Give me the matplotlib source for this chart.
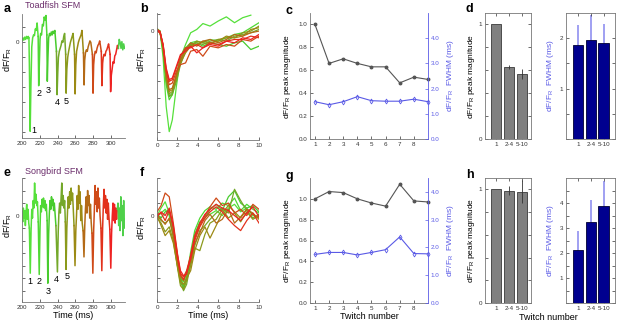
import numpy as np
import matplotlib
matplotlib.use("Agg")
import matplotlib.pyplot as plt
from matplotlib.ticker import FormatStrFormatter

plt.rcParams['font.family'] = ['Liberation Sans', 'DejaVu Sans']
plt.rcParams['mathtext.fontset'] = 'custom'
plt.rcParams['mathtext.rm'] = 'Liberation Sans'
plt.rcParams['mathtext.it'] = 'Liberation Sans:italic'

# ---------------- data ----------------
tw_colors = ['#55e03a', '#4fd834', '#48cc2e', '#74a82a', '#8b9a1c',
             '#9c8a14', '#b46a16', '#cf4a18', '#e2321c', '#ee2222']
tail_color = '#4fd04a'

# panel a: toadfish raw trace (time ms, dF/F units)
a_time = [200, 201, 202, 203, 204, 205, 206, 207, 207.8,
          208.3, 209.2, 210.0, 211.0, 212, 213, 214, 215, 216, 217, 218.2,
          218.8, 219.5, 220.3, 221, 222, 223, 224, 225, 226, 227, 228,
          228.5, 229.2, 230, 231, 232, 233, 234, 235, 236, 237, 238.8,
          239.5, 240.3, 241, 242, 243, 244, 245, 246, 247, 248, 249.2,
          249.7, 250.5, 251.5, 252.5, 253.5, 254.5, 255.5, 256.5, 257.5, 259.2,
          259.8, 260.6, 261.5, 262.5, 263.5, 264.5, 265.5, 266.5, 267.5, 269.2,
          269.9, 270.6, 271.5, 272.5, 273.5, 274.5, 275.5, 276.5, 277.5, 279.3,
          280, 280.7, 281.5, 282.5, 283.5, 284.5, 285.5, 286.5, 287.5, 289.3,
          290, 290.8, 291.5, 292.5, 293.5, 294.5, 295.5, 296.5, 297.5, 299.2,
          299.8, 300.6, 301.5, 302.5, 303.5, 304.5, 305.5, 306.5, 307.5, 308.5,
          309.5, 310.5, 311.5, 312.5, 313.5, 314.5, 315.5]
a_val = [0.1, 0.3, 0.15, 0.35, 0.2, 0.4, 0.25, 0.4, 0.3,
         -1.5, -5.95, -3.0, -0.3, 0.3, 0.5, 0.45, 0.9, 0.8, 1.3, 0.4,
         -2.9, -1.5, 0.2, 0.6, 0.5, 1.2, 1.1, 1.7, 1.5, 1.8, 0.5,
         -2.6, -1.0, 0.3, 0.6, 0.45, 0.7, 0.5, 0.75, 0.6, 0.8, -0.6,
         -3.5, -2.0, -1.0, -0.6, -0.4, -0.2, 0.1, 0.0, 0.4, 0.6, -0.8,
         -3.4, -1.8, -1.0, -0.6, -0.3, 0.0, 0.2, 0.4, 0.6, -0.8,
         -3.45, -1.5, -0.6, -0.3, 0.0, 0.2, 0.35, 0.5, 0.8, -0.7,
         -2.85, -1.2, -0.7, -0.5, -0.6, -0.3, -0.1, 0.1, 0.0, -0.8,
         -3.4, -1.5, -0.9, -0.6, -0.7, -0.4, -0.2, -0.1, 0.1, -0.6,
         -2.9, -1.4, -1.0, -0.8, -0.9, -0.6, -0.5, -0.3, -0.1, -0.8,
         -3.3, -2.2, -1.8, -1.3, -1.4, -0.9, -0.8, -0.5, -0.2, -0.4,
         0.2, 0.0, -0.4, 0.05, -0.5, -0.1, -0.4]
a_breaks = [200, 207.8, 218.2, 228, 238.8, 249.2, 259.2, 269.2, 279.3,
            289.3, 299.2, 308.5, 315.5]
a_label_pos = [(213.8, -5.9), (219.4, -3.4), (229.1, -3.2), (239.5, -4.0), (249.3, -3.95)]

# panel e: songbird raw trace
e_time = [200, 200.8, 201.5, 202.3, 203, 203.8, 204.5, 205.3, 206, 206.8, 207.6, 208.3,
          209.3, 210.2, 211, 211.8, 212.6, 213.4, 214.2, 215, 215.8, 216.6, 217.4, 218.3,
          219.4, 220.3, 221, 221.8, 222.6, 223.4, 224.2, 225, 225.8, 226.6, 227.4, 228.3,
          229.1, 230, 230.8, 231.6, 232.4, 233.2, 234, 234.8, 235.6, 236.4, 237.2, 238.2,
          239.9, 240.8, 241.6, 242.4, 243.2, 244, 244.8, 245.6, 246.4, 247.2, 248.0, 248.8,
          249.6, 250.5, 251.3, 252.1, 252.9, 253.7, 254.5, 255.3, 256.1, 256.9, 257.7, 258.6,
          259.7, 260.6, 261.4, 262.2, 263, 263.8, 264.6, 265.4, 266.2, 267, 267.8, 268.8,
          269.8, 270.7, 271.5, 272.3, 273.1, 273.9, 274.7, 275.5, 276.3, 277.1, 277.9, 278.8,
          279.8, 280.7, 281.5, 282.3, 283.1, 283.9, 284.7, 285.5, 286.3, 287.1, 287.9, 288.9,
          289.9, 290.8, 291.6, 292.4, 293.2, 294, 294.8, 295.6, 296.4, 297.2, 298, 298.9,
          300, 300.9, 301.7, 302.5, 303.3, 304.1, 304.9, 305.7, 306.5, 307.3,
          308.1, 308.9, 309.7, 310.5, 311.3, 312.1, 312.9, 313.7, 314.5, 315.3, 316]
e_val = [0.3, -0.5, 0.6, -0.2, 0.4, -0.8, 0.2, 0.9, -0.3, 0.5, -0.6, -1.0,
         -4.6, -1.2, 0.5, -0.2, 1.2, 0.6, 2.6, 1.0, 1.7, 0.8, 1.1, -0.5,
         -4.7, -1.0, 0.8, 0.3, 1.3, 0.7, 1.4, 0.6, 1.2, 0.4, 0.9, -0.4,
         -5.4, -1.5, 0.2, 1.2, 0.5, 1.5, 0.8, 1.3, 0.4, 1.0, 0.2, -0.8,
         -4.5, -1.3, 0.3, 1.0, 0.2, 1.4, 2.6, 0.8, 1.6, 0.6, 1.2, -0.5,
         -4.3, -1.0, 0.4, 1.5, 0.6, 1.9, 0.9, 2.2, 1.2, 1.8, 0.6, -0.8,
         -4.0, -1.2, 0.0, 1.6, 0.5, 2.4, 1.0, 1.9, -0.4, 0.8, -0.6, -1.2,
         -3.3, -0.8, 0.6, 1.5, 0.2, 2.0, 0.8, 1.6, -0.2, 0.9, -0.5, -1.4,
         -4.6, -1.2, 0.5, 2.4, 0.9, 1.9, 0.3, 2.2, 0.6, 1.4, 0.0, -1.0,
         -4.4, -1.0, 0.8, 2.1, 0.6, 1.6, 0.2, 1.3, -0.3, 1.0, -0.2, -1.1,
         -4.2, -1.4, 0.0, 1.0, -0.4, 0.9, -0.6, 0.6, -0.3, 0.5,
         1.0, -0.8, 0.6, -1.2, 1.5, -0.4, 0.8, -1.6, 1.2, -1.0, -0.3]
e_breaks = [200, 208.3, 218.3, 228.3, 238.2, 248.8, 258.6, 268.8, 278.8,
            288.9, 298.9, 307.3, 316]
e_label_pos = [(209.3, -5.3), (219.4, -5.25), (229.1, -6.05), (239.2, -5.1), (250.4, -4.9)]

# panel b: toadfish single twitches overlaid
b_time = [0, 0.3, 0.6, 0.9, 1.2, 1.5, 1.9, 2.3, 2.8, 3.3, 3.9, 4.5, 5.2, 6.0, 6.8, 7.6, 8.4, 9.2, 10.0]
b_traces = [
    [0.15, 0.0, -1.6, -4.5, -6.0, -5.3, -3.3, -1.6, -0.8, -0.1, 0.1, 0.45, 0.3, 0.6, 0.85, 0.5, 0.8, 0.95, np.nan],
    [0.1, -0.05, -1.2, -3.2, -4.1, -3.8, -2.6, -1.5, -1.0, -0.7, -0.6, -0.7, -0.5, -0.6, -0.4, -0.2, -0.1, 0.2, 0.5],
    [0.05, -0.1, -1.1, -3.0, -3.9, -3.7, -2.8, -1.9, -1.1, -0.8, -0.7, -0.9, -0.7, -0.8, -0.9, -0.7, -0.6, -1.1, -0.9],
    [0.1, 0.0, -1.0, -2.9, -3.9, -3.8, -3.0, -2.0, -1.2, -0.8, -0.7, -0.8, -0.6, -0.5, -0.6, -0.3, -0.2, -0.1, 0.1],
    [0.1, -0.05, -1.0, -2.8, -3.75, -3.6, -2.8, -1.8, -1.0, -0.9, -0.6, -0.7, -0.8, -0.5, -0.4, -0.4, -0.1, 0.0, 0.3],
    [0.05, -0.1, -1.1, -2.8, -3.6, -3.5, -2.7, -1.9, -1.3, -0.9, -0.8, -0.6, -0.7, -0.6, -0.3, -0.4, -0.3, 0.1, 0.2],
    [0.1, 0.0, -0.9, -2.6, -3.5, -3.4, -2.6, -1.7, -1.1, -0.7, -0.9, -0.6, -0.5, -0.7, -0.5, -0.2, -0.3, -0.1, 0.0],
    [0.05, -0.1, -0.9, -2.4, -3.2, -3.1, -2.4, -2.0, -1.9, -1.2, -1.1, -1.5, -0.9, -1.0, -0.8, -0.9, -0.5, -0.6, -0.3],
    [0.0, -0.1, -0.8, -2.3, -3.0, -2.9, -2.2, -1.5, -1.0, -1.0, -0.8, -1.0, -0.7, -0.8, -0.6, -0.5, -0.5, -0.3, -0.4],
    [0.1, -0.05, -0.8, -2.2, -2.9, -2.8, -2.1, -1.4, -1.2, -0.9, -1.3, -1.0, -0.8, -0.9, -0.6, -0.7, -0.4, -0.5, -0.2],
]

# panel f: songbird single twitches overlaid
f_time = [0, 0.4, 0.8, 1.2, 1.6, 2.0, 2.3, 2.6, 2.9, 3.3, 3.7, 4.2, 4.7, 5.2, 5.8, 6.4, 7.0, 7.6, 8.2, 8.8, 9.4, 10.0]
f_traces = [
    [0.0, 0.6, 1.1, 0.2, -1.4, -3.5, -5.0, -5.3, -4.6, -3.3, -1.8, -0.6, 0.0, 0.1, 0.4, 0.0, 0.6, 0.9, 0.3, 0.6, 0.0, -0.1],
    [-0.1, 0.2, 0.5, 0.0, -1.8, -4.0, -5.4, -5.6, -4.9, -2.9, -1.2, -0.2, 0.4, 0.7, 0.5, 1.0, 0.8, 1.4, 0.4, 0.9, 0.5, 0.2],
    [0.1, -0.2, 0.3, 0.4, -1.2, -3.2, -4.8, -5.8, -5.0, -3.6, -1.5, -0.5, -0.2, 0.5, 0.9, 0.4, 1.5, 2.0, 1.0, 0.6, 0.8, 0.3],
    [0.0, -0.4, -0.6, -0.3, -1.5, -3.8, -5.2, -6.0, -5.5, -3.8, -2.4, -1.2, -0.8, -0.3, 0.2, 0.6, 0.2, 2.1, 1.2, 0.4, -0.2, 0.1],
    [-0.2, -0.6, -1.3, -0.9, -2.0, -4.1, -5.6, -5.9, -5.2, -4.0, -2.6, -2.8, -1.5, -0.6, -0.3, 0.5, -0.2, 0.2, -0.5, 0.3, -0.3, 0.0],
    [0.0, -0.8, -1.6, -1.2, -2.2, -4.0, -5.2, -5.5, -5.0, -4.4, -2.8, -1.6, -0.9, -1.8, -0.8, 0.2, 0.8, 0.3, -0.2, 0.5, 0.2, -0.3],
    [0.0, -0.3, -0.7, -0.2, -1.6, -3.6, -4.8, -5.2, -4.6, -3.6, -2.2, -1.4, -0.4, 0.1, -0.6, -0.3, 0.5, -0.6, -0.1, 0.5, 0.1, -0.2],
    [0.3, 0.8, 1.8, 1.5, -0.6, -3.0, -4.6, -4.9, -4.4, -3.2, -1.8, -0.8, 0.0, 0.7, 1.4, 0.8, 1.0, 0.2, 0.5, 0.0, 0.9, 0.5],
    [0.1, 0.2, -0.4, 0.4, -1.0, -3.3, -4.7, -5.1, -4.5, -3.5, -2.0, -0.9, -0.2, 0.3, 0.7, 0.3, -0.3, -0.8, -1.2, -0.4, 0.2, -0.6],
    [-0.1, 0.3, 0.0, 0.6, -0.8, -3.1, -4.4, -4.8, -4.7, -3.2, -1.6, -0.6, 0.1, 0.5, 0.9, 0.6, 0.4, 0.0, -0.4, 0.2, 0.7, -0.1],
]

# panels c, g: per-twitch summary
twitch_num = [1, 2, 3, 4, 5, 6, 7, 8, 9]
c_mag = [1.0, 0.66, 0.70, 0.66, 0.63, 0.63, 0.49, 0.54, 0.52]
c_fwhm = [1.48, 1.36, 1.48, 1.68, 1.52, 1.50, 1.50, 1.58, 1.48]
g_mag = [1.0, 1.07, 1.06, 1.0, 0.96, 0.93, 1.14, 0.98, 0.97]
g_fwhm = [1.75, 1.82, 1.82, 1.73, 1.82, 1.92, 2.38, 1.78, 1.77]

# panels d, h: grouped bars
groups = ['1', '2-4', '5-10']
d_mag = [1.0, 0.63, 0.57]
d_mag_err = [0.0, 0.02, 0.045]
d_fwhm = [1.87, 1.96, 1.90]
d_fwhm_err = [0.40, 0.51, 0.39]
h_mag = [1.0, 0.99, 0.98]
h_mag_err = [0.0, 0.04, 0.10]
h_fwhm = [2.14, 3.24, 3.90]
h_fwhm_err = [0.76, 0.88, 1.0]

# ---------------- figure ----------------
W, H = 617, 324
fig = plt.figure(figsize=(W / 100, H / 100), dpi=100)

TICK_FS = 4.5
LAB_FS = 6
BLUE = '#5a5ae6'
SPINE = '#777777'
YLAB = 'dF/F$_\\mathrm{R}$'


def add_ax(l, t, r, b):
    return fig.add_axes([l / W, 1 - b / H, (r - l) / W, (b - t) / H])


def style(ax, box=False):
    for s in ax.spines.values():
        s.set_linewidth(0.6)
        s.set_color(SPINE)
    if not box:
        ax.spines['top'].set_visible(False)
        ax.spines['right'].set_visible(False)
    ax.tick_params(direction='in', length=2, width=0.5, labelsize=TICK_FS,
                   colors='#333333', pad=2)


def trace_panel(ax, t, v, breaks, colors):
    t = np.array(t)
    v = np.array(v)
    for i in range(len(breaks) - 1):
        m = (t >= breaks[i]) & (t <= breaks[i + 1])
        ax.plot(t[m], v[m], color=colors[i], lw=1.1)


seg_colors = [tw_colors[0]] + tw_colors + [tail_color]

# a
ax = add_ax(22, 14, 125, 138)
style(ax)
trace_panel(ax, a_time, a_val, a_breaks, seg_colors)
for i, (x, y) in enumerate(a_label_pos):
    ax.text(x, y, str(i + 1), fontsize=6.5, ha='center', va='center')
ax.set_xlim(200, 316)
ax.set_ylim(-6.4, 1.9)
ax.set_xticks([200, 220, 240, 260, 280, 300])
ax.set_yticks(range(-6, 2))
ax.set_yticklabels(['0' if k == 0 else '' for k in range(-6, 2)])
ax.set_ylabel(YLAB, fontsize=6.5)
ax.yaxis.set_label_coords(-0.075, 0.63)
fig.text(25 / W, 1 - 5 / H, 'Toadfish SFM', color='#6b2d6b', fontsize=6.5, va='center')

# e
ax = add_ax(22, 178, 125, 302)
style(ax)
trace_panel(ax, e_time, e_val, e_breaks, seg_colors)
for i, (x, y) in enumerate(e_label_pos):
    ax.text(x, y, str(i + 1), fontsize=6.5, ha='center', va='center')
ax.set_xlim(200, 316)
ax.set_ylim(-6.9, 3.0)
ax.set_xticks([200, 220, 240, 260, 280, 300])
ax.set_yticks(range(-6, 4))
ax.set_yticklabels(['0' if k == 0 else '' for k in range(-6, 4)])
ax.set_ylabel(YLAB, fontsize=6.5)
ax.yaxis.set_label_coords(-0.075, 0.62)
ax.set_xlabel('Time (ms)', fontsize=6.5, labelpad=1)
fig.text(25 / W, 1 - 171 / H, 'Songbird SFM', color='#6b2d6b', fontsize=6.5, va='center')

# b
ax = add_ax(157, 13, 259, 140)
style(ax)
for tr, col in zip(b_traces, tw_colors):
    ax.plot(b_time, tr, color=col, lw=0.9)
ax.set_xlim(0, 10)
ax.set_ylim(-6.5, 1.08)
ax.set_xticks(range(0, 11, 2))
ax.set_yticks(range(-6, 2))
ax.set_yticklabels(['0' if k == 0 else '' for k in range(-6, 2)])
ax.set_ylabel(YLAB, fontsize=6.5)
ax.yaxis.set_label_coords(-0.09, 0.63)

# f
ax = add_ax(157, 178, 259, 302)
style(ax)
for tr, col in zip(f_traces, tw_colors):
    ax.plot(f_time, tr, color=col, lw=0.9)
ax.set_xlim(0, 10)
ax.set_ylim(-6.9, 3.0)
ax.set_xticks(range(0, 11, 2))
ax.set_yticks(range(-6, 4))
ax.set_yticklabels(['0' if k == 0 else '' for k in range(-6, 4)])
ax.set_ylabel(YLAB, fontsize=6.5)
ax.yaxis.set_label_coords(-0.09, 0.6)
ax.set_xlabel('Time (ms)', fontsize=6.5, labelpad=1)


def summary_panel(ax, mag, fwhm, ylim_l, ylim_r, xlabel):
    style(ax)
    ax.spines['right'].set_visible(False)
    ax.plot(twitch_num, mag, color='#555555', lw=0.8, marker='o', ms=1.8,
            clip_on=False)
    ax.set_xlim(0.65, 9)
    ax.set_ylim(*ylim_l)
    ax.set_xticks(range(1, 9))
    ax.set_yticks(np.arange(0, 1.01, 0.2))
    ax.yaxis.set_major_formatter(FormatStrFormatter('%.1f'))
    ax.set_ylabel(YLAB + ' peak magnitude', fontsize=LAB_FS, labelpad=4)
    ax2 = ax.twinx()
    ax2.plot(twitch_num, fwhm, color=BLUE, lw=0.8, marker='d', ms=2.5,
             mfc='none', mew=0.6, clip_on=False)
    ax2.set_ylim(*ylim_r)
    ax2.set_yticks(np.arange(0, 4.01, 1.0))
    ax2.yaxis.set_major_formatter(FormatStrFormatter('%.1f'))
    for s in ax2.spines.values():
        s.set_visible(False)
    ax2.spines['right'].set_visible(True)
    ax2.spines['right'].set_color(BLUE)
    ax2.spines['right'].set_linewidth(0.6)
    ax2.tick_params(direction='in', length=2, width=0.5, labelsize=TICK_FS,
                    colors=BLUE, pad=2)
    ax2.set_ylabel(YLAB + '  FWHM (ms)', fontsize=LAB_FS, color=BLUE, labelpad=4)
    if xlabel:
        ax.set_xlabel('Twitch number', fontsize=6.5, labelpad=1)


summary_panel(add_ax(310, 13, 428, 139), c_mag, c_fwhm, (0, 1.1), (0, 5), False)
summary_panel(add_ax(310, 178, 428, 303), g_mag, g_fwhm, (0, 1.2), (0, 4.5), True)


def bar_pair(top, bottom, mag, mag_err, fwhm, fwhm_err, ylim_r, rticks, rlabels):
    x = [1, 2, 3]
    axl = add_ax(485, top, 531, bottom)
    style(axl, box=True)
    axl.tick_params(top=True, right=True)
    axl.bar(x, mag, width=0.8, color='#808080', edgecolor='#3a3a3a', lw=0.6, zorder=2)
    axl.errorbar(x, mag, yerr=mag_err, fmt='none', ecolor='#333333', elinewidth=0.6,
                 capsize=0, zorder=3)
    axl.set_xlim(0.15, 3.7)
    axl.set_ylim(0, 1.1)
    axl.set_xticks(x)
    axl.set_xticklabels(groups)
    axl.set_yticks(np.arange(0, 1.01, 0.2))
    axl.set_yticklabels(['0', '', '', '', '', '1'])
    axl.set_ylabel(YLAB + ' peak magnitude', fontsize=LAB_FS, labelpad=1)

    axr = add_ax(566, top, 615, bottom)
    style(axr, box=True)
    axr.tick_params(top=True, right=True)
    axr.errorbar(x, fwhm, yerr=fwhm_err, fmt='none', ecolor='#9090f0', elinewidth=1.2,
                 capsize=0, zorder=1)
    axr.bar(x, fwhm, width=0.8, color='#00008f', edgecolor='#000033', lw=0.6, zorder=2)
    axr.set_xlim(0.05, 3.9)
    axr.set_ylim(*ylim_r)
    axr.set_xticks(x)
    axr.set_xticklabels(groups)
    axr.set_yticks(rticks)
    axr.set_yticklabels(rlabels)
    axr.set_ylabel(YLAB + '  FWHM (ms)', fontsize=LAB_FS, color=BLUE, labelpad=3)
    return axl, axr


bar_pair(13, 139, d_mag, d_mag_err, d_fwhm, d_fwhm_err, (0, 2.5),
         [0, 0.5, 1, 1.5, 2], ['', '', '1', '', '2'])
bar_pair(178, 303, h_mag, h_mag_err, h_fwhm, h_fwhm_err, (0, 5),
         [0, 0.5, 1, 1.5, 2, 2.5, 3, 3.5, 4, 4.5], ['', '', '1', '', '2', '', '3', '', '4', ''])
fig.text(548 / W, 1 - 317 / H, 'Twitch number', fontsize=6.5, ha='center', va='center')

# panel letters
for letter, (x, y) in zip('abcdefgh', [(4, 9), (140, 9), (286, 11), (466, 9),
                                       (4, 173), (140, 173), (286, 176), (466, 175)]):
    fig.text(x / W, 1 - y / H, letter, fontsize=9, fontweight='bold', va='center')

fig.savefig('out.png', dpi=100)
